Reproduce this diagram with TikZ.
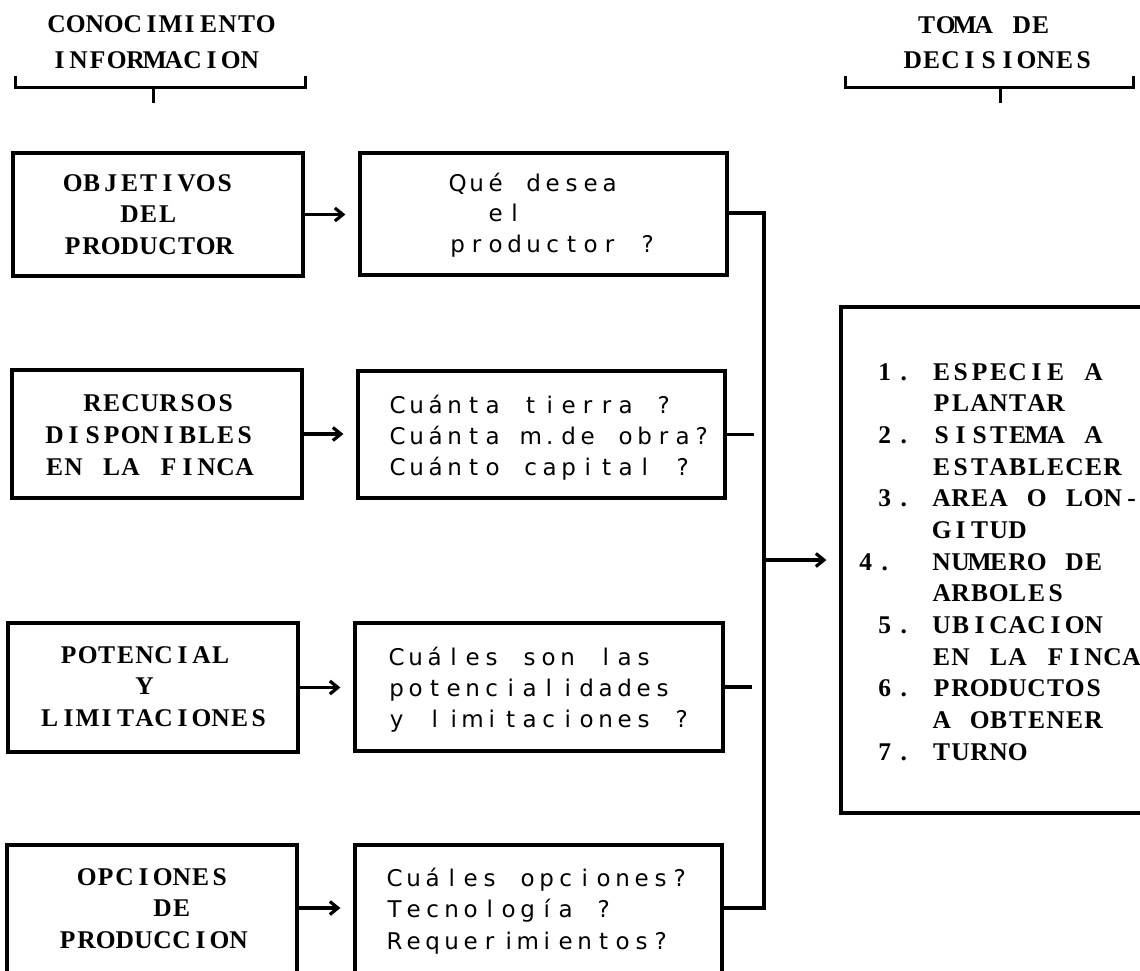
\documentclass[tikz,border=0pt]{standalone}
\usepackage{fontspec}
\usetikzlibrary{arrows.meta}
\newfontfamily\capfont{Liberation Serif}
\newfontfamily\midfont{DejaVu Sans}
\newdimen\twpitch \twpitch=19pt
\ExplSyntaxOn
\NewDocumentCommand\tw{m}{\str_map_inline:nn {#1} {\makebox[\twpitch][c]{##1}}}
\ExplSyntaxOff
\newcommand\tlines[2][31.5pt]{\vtop{\baselineskip=#1\relax\lineskiplimit=-100pt\relax\halign{##\hfil\cr#2\crcr}}}
\begin{document}
\begin{tikzpicture}[x=1pt,y=-1pt,
  box/.style={draw, rectangle, inner sep=0pt, line width=3.2pt},
  capt/.style={anchor=base west, inner sep=0pt, font=\capfont\bfseries\fontsize{25.5}{31.5}\selectfont},
  midt/.style={anchor=base west, inner sep=0pt, font=\midfont\fontsize{23}{31.5}\selectfont},
  link/.style={line width=3.2pt},
  arr/.style={link, -{Straight Barb[length=8pt,width=13pt]}, shorten >=13pt},
  brk/.style={line width=3pt}]
\useasboundingbox (0,0) rectangle (1140,970);
\clip (0,0) rectangle (1140,970);
\fill[white] (0,0) rectangle (1140,970);

% headers
\node[capt] (h1) at (47,32) {\tlines[36pt]{\tw{CONOCIMIENTO}\cr\kern3pt\tw{INFORMACION}}};
\node[capt] (h2) at (903,33) {\tlines[35pt]{\kern14pt\tw{TOMA DE}\cr\tw{DECISIONES}}};
\coordinate (b1l) at (15,76); \coordinate (b1r) at (305,76); \coordinate (b1t) at (153,103);
\coordinate (b2l) at (845,76); \coordinate (b2r) at (1133,76); \coordinate (b2t) at (1000,103);
\draw[brk] (b1l) -- (b1l |- 0,87) -- (b1r |- 0,87) -- (b1r);
\draw[brk] (b1t |- 0,87) -- (b1t);
\draw[brk] (b2l) -- (b2l |- 0,87) -- (b2r |- 0,87) -- (b2r);
\draw[brk] (b2t |- 0,87) -- (b2t);

% left boxes
\node[box, minimum width=290pt, minimum height=123pt] (L1) at (158,214.5) {};
\node[box, minimum width=290pt, minimum height=128pt] (L2) at (157,434) {};
\node[box, minimum width=290pt, minimum height=129pt] (L3) at (153,687.5) {};
\node[box, minimum width=290pt, minimum height=155pt] (L4) at (152,922.5) {};

% middle boxes
\node[box, minimum width=367pt, minimum height=122pt] (M1) at (543.5,214) {};
\node[box, minimum width=367pt, minimum height=127pt] (M2) at (541.5,434.5) {};
\node[box, minimum width=368pt, minimum height=128pt] (M3) at (539,687) {};
\node[box, minimum width=367pt, minimum height=155pt] (M4) at (538.5,922.5) {};

% right box
\node[box, minimum width=320pt, minimum height=506pt] (R) at (1001,560) {};

% texts
\node[capt] (t1) at (63,191) {\tlines{\tw{OBJETIVOS}\cr\kern57pt\tw{DEL}\cr\tw{PRODUCTOR}}};
\node[capt] (t2) at (45,411) {\tlines[32pt]{\kern38pt\tw{RECURSOS}\cr\tw{DISPONIBLES}\cr\tw{EN LA FINCA}}};
\node[capt] (t3) at (40,663) {\tlines{\kern19pt\tw{POTENCIAL}\cr\kern95pt\tw{Y}\cr\tw{LIMITACIONES}}};
\node[capt] (t4) at (58,885) {\tlines{\kern19pt\tw{OPCIONES}\cr\kern95pt\tw{DE}\cr\tw{PRODUCCION}}};

\node[midt] (u1) at (448,191) {\tlines[30.5pt]{\tw{Qué desea}\cr\kern38pt\tw{el}\cr\tw{productor ?}}};
\node[midt] (u2) at (388,413) {\tlines[31pt]{\tw{Cuánta tierra ?}\cr\tw{Cuánta m.de obra?}\cr\tw{Cuánto capital ?}}};
\node[midt] (u3) at (387,665) {\tlines[31pt]{\tw{Cuáles son las}\cr\tw{potencialidades}\cr\tw{y limitaciones ?}}};
\node[midt] (u4) at (385,886) {\tlines[31.5pt]{\tw{Cuáles opciones?}\cr\tw{Tecnología ?}\cr\tw{Requerimientos?}}};

\node[capt] (rt) at (875,380) {\tlines[31.67pt]{%
\tw{1. ESPECIE A}\cr
\kern57pt\tw{PLANTAR}\cr
\tw{2. SISTEMA A}\cr
\kern57pt\tw{ESTABLECER}\cr
\tw{3. AREA O LON-}\cr
\kern57pt\tw{GITUD}\cr
\kern-19pt\tw{4.}\kern38pt\tw{NUMERO DE}\cr
\kern57pt\tw{ARBOLES}\cr
\tw{5. UBICACION}\cr
\kern57pt\tw{EN LA FINCA}\cr
\tw{6. PRODUCTOS}\cr
\kern57pt\tw{A OBTENER}\cr
\tw{7. TURNO}}};

% arrows left -> middle
\draw[arr] (L1.east) -- (L1.east -| M1.west);
\draw[arr] (L2.east) -- (L2.east -| M2.west);
\draw[arr] (L3.east) -- (L3.east -| M3.west);
\coordinate (busTop) at (764,213);
\coordinate (busBot) at (764,908);
\draw[arr] (L4.east |- busBot) -- (M4.west |- busBot);

% collector
\draw[link] (M1.east |- busTop) -- (busTop) -- (busBot) -- (M4.east |- busBot);
\coordinate (s2) at (754,434.5);
\coordinate (s3) at (752,687);
\draw[link] (M2.east) -- (s2);
\draw[link] (M3.east) -- (s3);
\draw[arr] (busTop |- R.west) -- (R.west);
\end{tikzpicture}
\end{document}
